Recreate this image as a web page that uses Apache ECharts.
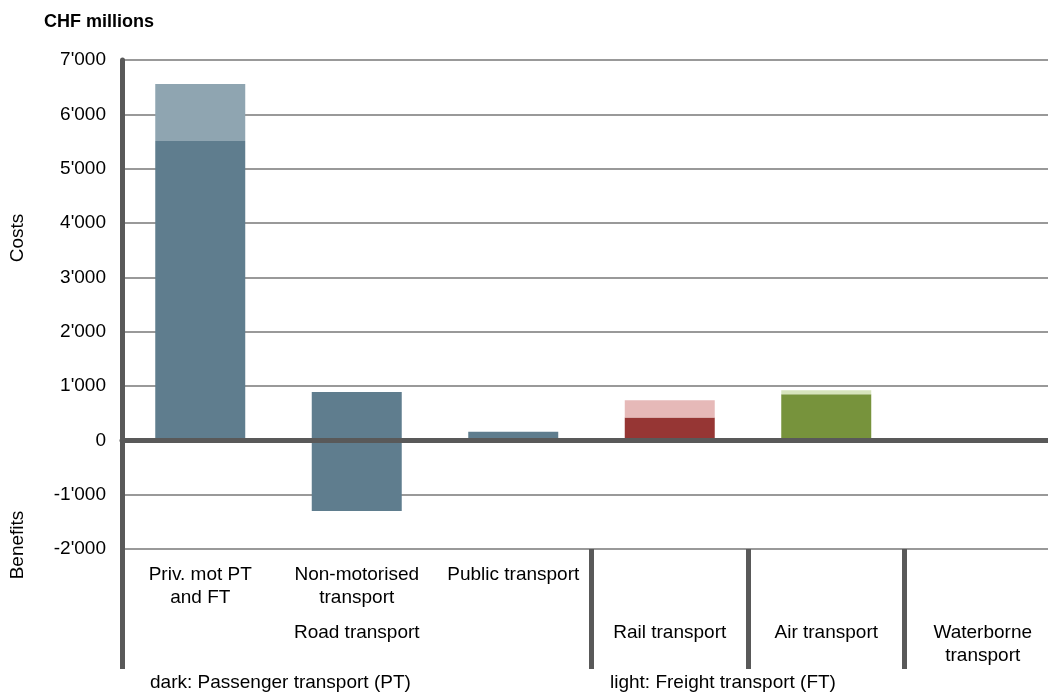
<!DOCTYPE html>
<html>
<head>
<meta charset="utf-8">
<script src="https://cdn.jsdelivr.net/npm/echarts@6/dist/echarts.min.js"></script>
<style>
html,body{margin:0;padding:0;background:#fff;}
#c{width:1048px;height:693px;}
</style>
</head>
<body>
<div id="c"></div>
<script>
// ---- data ----
var categories = ['Priv. mot PT and FT', 'Non-motorised transport', 'Public transport', 'Rail transport', 'Air transport', 'Waterborne transport'];
var ptCosts    = [5510, 890, 160, 420, 850, 0];     // dark: passenger transport (costs)
var ftCosts    = [1050, 0, 0, 320, 70, 0];          // light: freight transport (costs)
var ptBenefits = [0, -1300, 0, 0, 0, 0];            // dark: passenger transport (benefits)
var labelRow1a = ['Priv. mot PT', 'Non-motorised', 'Public transport', ' ', ' ', ' '];
var labelRow1b = ['and FT', 'transport', ' ', ' ', ' ', ' '];
var labelRow2a = [' ', 'Road transport', ' ', 'Rail transport', 'Air transport', 'Waterborne'];
var labelRow2b = [' ', ' ', ' ', ' ', ' ', 'transport'];
var yTicks = { min: -2000, max: 7000, interval: 1000 };

// ---- styles ----
var darkColors  = ['#5F7D8E', '#5F7D8E', '#5F7D8E', '#963634', '#77933C', '#5F7D8E'];
var lightColors = ['#8FA5B1', '#8FA5B1', '#8FA5B1', '#E6B9B8', '#D7E4BD', '#8FA5B1'];
var FONT = 'Liberation Sans, Arial, sans-serif';
var FS = 19;

function withColors(values, colors) {
  return values.map(function (v, i) { return { value: v, itemStyle: { color: colors[i] } }; });
}

var chart = echarts.init(document.getElementById('c'), null, { renderer: 'canvas' });
var option = {
  animation: false,
  backgroundColor: '#ffffff',
  textStyle: { fontFamily: FONT },
  grid: { left: 122, top: 60, width: 939, bottom: 144, containLabel: false, outerBoundsMode: 'none' },
  xAxis: [
    {
      type: 'category',
      data: categories,
      z: 5,
      axisLine: { show: true, onZero: true, lineStyle: { color: '#595959', width: 5 } },
      axisTick: { show: false },
      axisLabel: { show: false },
      splitLine: { show: false }
    },
    {
      type: 'category',
      data: categories,
      position: 'bottom',
      axisLine: { show: false, onZero: false },
      axisTick: {
        show: true,
        length: 120,
        interval: function (index) { return index === 0 || index >= 3; },
        lineStyle: { color: '#595959', width: 5 }
      },
      axisLabel: {
        show: true,
        interval: 0,
        margin: 14,
        formatter: function (v, i) {
          return '{a|' + labelRow1a[i] + '}\n{a|' + labelRow1b[i] + '}\n{g| }\n{a|' + labelRow2a[i] + '}\n{a|' + labelRow2b[i] + '}';
        },
        rich: {
          a: { fontFamily: FONT, fontSize: FS, color: '#000', lineHeight: 23, align: 'center' },
          g: { fontSize: 4, lineHeight: 12 }
        }
      },
      splitLine: { show: false }
    }
  ],
  yAxis: {
    type: 'value',
    min: yTicks.min,
    max: yTicks.max,
    interval: yTicks.interval,
    axisLine: { show: true, onZero: false, lineStyle: { color: '#595959', width: 5 } },
    axisTick: { show: false },
    axisLabel: {
      margin: 16,
      color: '#000',
      fontSize: FS,
      fontFamily: FONT,
      formatter: function (v) {
        var s = Math.abs(v).toString();
        if (s.length > 3) s = s.slice(0, s.length - 3) + "'" + s.slice(s.length - 3);
        return (v < 0 ? '-' : '') + s;
      }
    },
    splitLine: { show: true, lineStyle: { color: '#999999', width: 2 } }
  },
  series: [
    { name: 'PT', type: 'bar', stack: 's', barWidth: '57.5%', data: withColors(ptCosts, darkColors) },
    { name: 'FT', type: 'bar', stack: 's', barWidth: '57.5%', data: withColors(ftCosts, lightColors) },
    { name: 'PT benefits', type: 'bar', stack: 's', barWidth: '57.5%', data: withColors(ptBenefits, darkColors) }
  ],
  graphic: [
    { type: 'text', left: 44, top: 13, style: { text: 'CHF millions', fontFamily: FONT, fontSize: 18, fontWeight: 'bold', fill: '#000' } },
    { type: 'text', x: 18, y: 238, rotation: Math.PI / 2, style: { text: 'Costs', fontFamily: FONT, fontSize: FS, fill: '#000', align: 'center', verticalAlign: 'middle' } },
    { type: 'text', x: 18, y: 545, rotation: Math.PI / 2, style: { text: 'Benefits', fontFamily: FONT, fontSize: FS, fill: '#000', align: 'center', verticalAlign: 'middle' } },
    { type: 'text', left: 150, top: 673, style: { text: 'dark: Passenger transport (PT)', fontFamily: FONT, fontSize: FS, fill: '#000' } },
    { type: 'text', left: 610, top: 673, style: { text: 'light: Freight transport (FT)', fontFamily: FONT, fontSize: FS, fill: '#000' } }
  ]
};
chart.setOption(option);
</script>
</body>
</html>
